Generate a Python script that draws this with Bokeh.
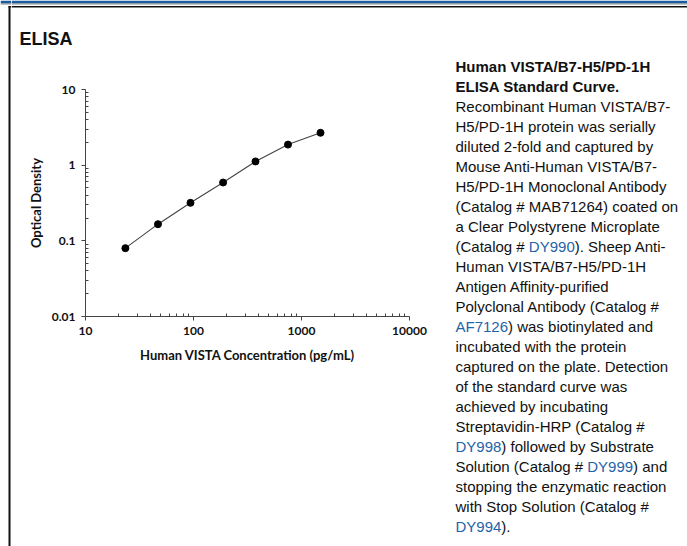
from bokeh.plotting import figure
from bokeh.models import FixedTicker, Range1d, ColumnDataSource
from bokeh.layouts import row, column
from bokeh.core.properties import value
from bokeh.embed import file_html
from bokeh.resources import INLINE

# ---- data ----
conc = [23.4, 46.9, 93.8, 188, 375, 750, 1500]          # pg/mL
od = [0.080, 0.166, 0.318, 0.590, 1.12, 1.87, 2.68]      # optical density

x_ticks = [10, 100, 1000, 10000]
x_tick_labels = ["10", "100", "1000", "10000"]
y_ticks = [0.01, 0.1, 1, 10]
y_tick_labels = ["0.01", "0.1", "1", "10"]

title_text = "ELISA"
x_label = "Human VISTA Concentration (pg/mL)"
y_label = "Optical Density"

caption_bold = ["Human VISTA/B7-H5/PD-1H", "ELISA Standard Curve."]
caption_lines = [
    [("Recombinant Human VISTA/B7-", 0)],
    [("H5/PD-1H protein was serially", 0)],
    [("diluted 2-fold and captured by", 0)],
    [("Mouse Anti-Human VISTA/B7-", 0)],
    [("H5/PD-1H Monoclonal Antibody", 0)],
    [("(Catalog # MAB71264) coated on", 0)],
    [("a Clear Polystyrene Microplate", 0)],
    [("(Catalog # ", 0), ("DY990", 1), ("). Sheep Anti-", 0)],
    [("Human VISTA/B7-H5/PD-1H", 0)],
    [("Antigen Affinity-purified", 0)],
    [("Polyclonal Antibody (Catalog #", 0)],
    [("AF7126", 1), (") was biotinylated and", 0)],
    [("incubated with the protein", 0)],
    [("captured on the plate. Detection", 0)],
    [("of the standard curve was", 0)],
    [("achieved by incubating", 0)],
    [("Streptavidin-HRP (Catalog #", 0)],
    [("DY998", 1), (") followed by Substrate", 0)],
    [("Solution (Catalog # ", 0), ("DY999", 1), (") and", 0)],
    [("stopping the enzymatic reaction", 0)],
    [("with Stop Solution (Catalog #", 0)],
    [("DY994", 1), (").", 0)],
]

# ---- layout constants (page pixels) ----
W, H = 687, 546
STRIP = 11           # left strip holding the page border
TOP = 58             # header band height
SPLIT = 440          # chart | caption split
FX0, FX1 = 85, 409   # chart frame left/right
FY0, FY1 = 89, 316   # chart frame top/bottom

BLUE = "#1b5c9e"
INK = "#111111"
LINK = "#1f63a8"
FONT = "Liberation Sans"


def blank(x0, x1, y0, y1):
    f = figure(width=x1 - x0, height=y1 - y0, output_backend="svg", toolbar_location=None,
               x_range=Range1d(x0, x1), y_range=Range1d(y1, y0),
               x_axis_location=None, y_axis_location=None, min_border=0)
    f.outline_line_color = None
    f.grid.visible = False
    f.background_fill_color = "white"
    f.border_fill_color = "white"
    f.frame_align = False
    return f


def header_bars(f, x0, x1):
    f.quad(left=[x0], right=[x1], top=[0], bottom=[3], fill_color=BLUE, line_color=None)
    f.quad(left=[x0], right=[x1], top=[3], bottom=[4], fill_color="#8a8a8a", line_color=None)
    f.quad(left=[max(x0, 8)], right=[x1], top=[5.5], bottom=[7], fill_color=INK, line_color=None)


# left strip with page border
strip = blank(0, STRIP, 0, H)
header_bars(strip, 0, STRIP)
strip.quad(left=[8], right=[10], top=[5.5], bottom=[H], fill_color=INK, line_color=None)

# header with title
head = blank(STRIP, W, 0, TOP)
header_bars(head, STRIP, W)
head.text(x=[19], y=[38], text=[title_text], text_font=value(FONT),
          text_font_size=value("18px"), text_font_style=value("bold"),
          text_color=INK, text_baseline=value("alphabetic"))

# chart
p = figure(width=SPLIT - STRIP, height=H - TOP, x_axis_type="log", y_axis_type="log",
           x_range=(10, 10000), y_range=(0.01, 10),
           output_backend="svg", toolbar_location=None,
           min_border_left=FX0 - STRIP, min_border_right=SPLIT - FX1,
           min_border_top=FY0 - TOP, min_border_bottom=H - FY1)
p.frame_align = False
p.outline_line_color = None
p.grid.visible = False
p.background_fill_color = "white"
p.border_fill_color = "white"

minor_x = [m * 10 ** d for d in range(1, 4) for m in range(2, 10)]
minor_y = [m * 10 ** d for d in range(-2, 1) for m in range(2, 10)]
p.xaxis.ticker = FixedTicker(ticks=x_ticks, minor_ticks=minor_x)
p.yaxis.ticker = FixedTicker(ticks=y_ticks, minor_ticks=minor_y)
p.xaxis.major_label_overrides = dict(zip(x_ticks, x_tick_labels))
p.yaxis.major_label_overrides = dict(zip(y_ticks, y_tick_labels))

for ax in (p.xaxis, p.yaxis):
    ax.axis_line_color = "#444444"
    ax.major_tick_line_color = "#444444"
    ax.minor_tick_line_color = "#444444"
    ax.major_tick_in = 0
    ax.major_tick_out = 4
    ax.minor_tick_in = 3
    ax.minor_tick_out = 0
    ax.major_label_text_font = "Lato"
    ax.major_label_text_font_style = "bold"
    ax.major_label_text_font_size = "12px"
    ax.major_label_text_color = INK
    ax.major_label_standoff = 6
    ax.axis_label_text_font = "Lato"
    ax.axis_label_text_font_style = "bold"
    ax.axis_label_text_font_size = "13px"
    ax.axis_label_text_color = INK
p.xaxis.axis_label = x_label
p.yaxis.axis_label = y_label
p.xaxis.axis_label_standoff = 9
p.yaxis.axis_label_standoff = 5

p.line(conc, od, line_color="#444444", line_width=1.1)
p.scatter(conc, od, size=7, fill_color="black", line_color="black")

# caption
cap = blank(SPLIT, W, TOP, H)
ARIAL = {'(': 333, 'C': 722, 'a': 556, 't': 278, 'l': 222, 'o': 556, 'g': 556, ' ': 278,
         '#': 556, 'D': 722, 'Y': 667, '9': 556, '0': 556, 'A': 667, 'F': 611, '7': 556,
         '1': 556, '2': 556, '6': 556, '8': 556, 'S': 667, 'u': 556, 'i': 222, 'n': 556,
         '4': 556}
FS = 15
X0 = 455
BASE0 = 66
STEP = 20

bold_src = ColumnDataSource(dict(x=[X0] * len(caption_bold),
                                 y=[BASE0 + STEP * i for i in range(len(caption_bold))],
                                 t=caption_bold))
cap.text(x="x", y="y", text="t", source=bold_src, text_font=value(FONT),
         text_font_size=value(f"{FS}px"), text_font_style=value("bold"),
         text_color=INK, text_baseline=value("alphabetic"))

xs, ys, ts, cs = [], [], [], []
for j, segs in enumerate(caption_lines):
    y = BASE0 + STEP * (j + len(caption_bold))
    x = X0
    for s, is_link in segs:
        xs.append(x)
        ys.append(y)
        ts.append(s)
        cs.append(LINK if is_link else INK)
        x += sum(ARIAL.get(c, 556) for c in s) * FS / 1000.0
body_src = ColumnDataSource(dict(x=xs, y=ys, t=ts, c=cs))
cap.text(x="x", y="y", text="t", text_color="c", source=body_src, text_font=value(FONT),
         text_font_size=value(f"{FS}px"), text_baseline=value("alphabetic"))

layout = row(strip, column(head, row(p, cap)))
open("out.html", "w").write(file_html(layout, INLINE))
